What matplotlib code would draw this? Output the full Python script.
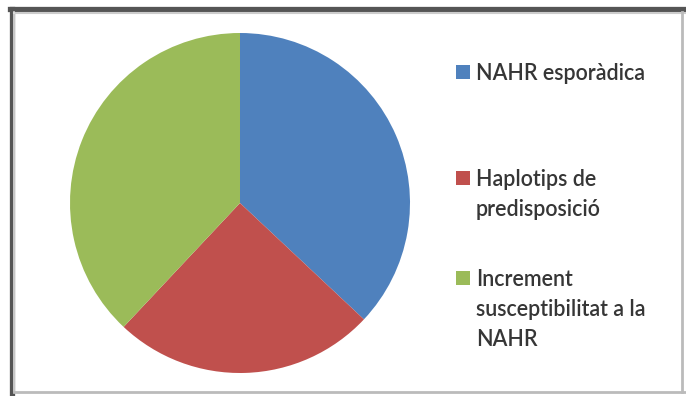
import matplotlib
matplotlib.use("Agg")
import matplotlib.pyplot as plt
from matplotlib.patches import Rectangle
from matplotlib.lines import Line2D

# Share of each mechanism
labels = ["NAHR esporàdica", "Haplotips de\npredisposició", "Increment\nsusceptibilitat a la\nNAHR"]
values = [37, 25, 38]
colors = ["#4F81BD", "#C0504D", "#9BBB59"]

W, H = 686, 396
fig = plt.figure(figsize=(W / 100, H / 100), dpi=100)
fig.patch.set_facecolor("white")

def fx(px):
    return px / W

def fy(py):
    return 1 - py / H

# Pie: centre (240, 203) px, radius 170 px
cx, cy, r = 240, 203, 170
ax = fig.add_axes([fx(cx - r), fy(cy + r), 2 * r / W, 2 * r / H])
ax.pie(values, colors=colors, startangle=90, counterclock=False, radius=1,
       wedgeprops=dict(linewidth=0))
ax.set_xlim(-1, 1)
ax.set_ylim(-1, 1)
ax.axis("off")

# Legend entries: coloured square + text lines
font = dict(family=["Lato", "DejaVu Sans"], size=15.5, color="#363636",
            fontweight="semibold")
first_baselines = [80, 186, 286]
line_step = 30
sq = 14
for lab, col, b0 in zip(labels, colors, first_baselines):
    fig.add_artist(Rectangle((fx(456), fy(b0 - 1)), sq / W, sq / H,
                             transform=fig.transFigure, facecolor=col,
                             edgecolor="none"))
    for i, line in enumerate(lab.split("\n")):
        fig.text(fx(476), fy(b0 + i * line_step), line, va="baseline",
                 ha="left", **font)

# Chart frame
fig.add_artist(Line2D([fx(11.5), fx(11.5)], [fy(8.5), fy(396)], transform=fig.transFigure,
                      color="#555555", linewidth=3.8))
fig.add_artist(Line2D([fx(9.5), fx(686)], [fy(8.5), fy(8.5)], transform=fig.transFigure,
                      color="#555555", linewidth=3.8))
fig.add_artist(Line2D([fx(14), fx(686)], [fy(12.5), fy(12.5)], transform=fig.transFigure,
                      color="#cccccc", linewidth=1.5))
fig.add_artist(Line2D([fx(14.5), fx(14.5)], [fy(12), fy(392)], transform=fig.transFigure,
                      color="#dddddd", linewidth=1.2))
fig.add_artist(Line2D([fx(14), fx(686)], [fy(392), fy(392)], transform=fig.transFigure,
                      color="#bbbbbb", linewidth=2))
fig.add_artist(Line2D([fx(682), fx(682)], [fy(12), fy(392)], transform=fig.transFigure,
                      color="#bbbbbb", linewidth=2))

fig.savefig("out.png", dpi=100)
